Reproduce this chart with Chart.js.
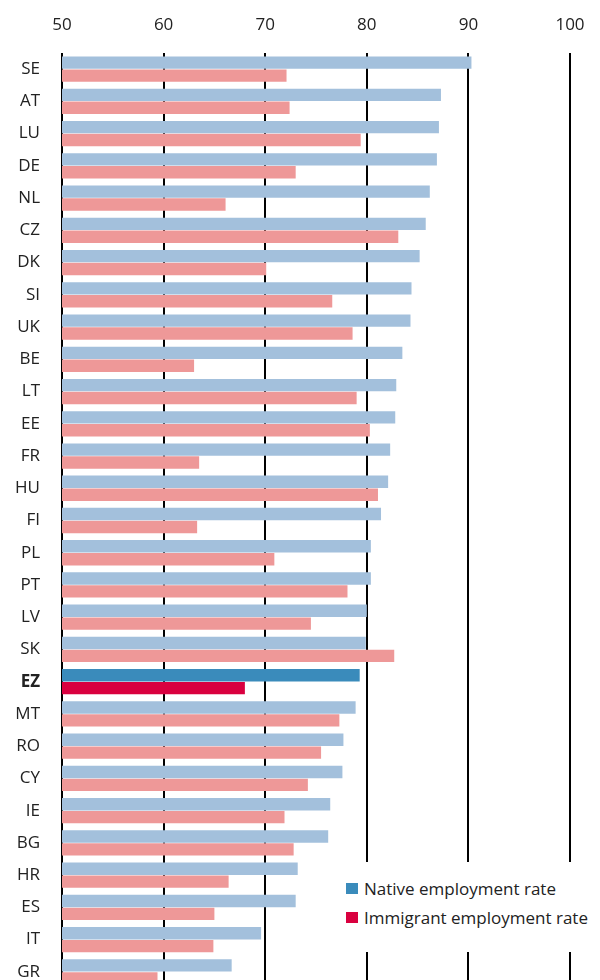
<!DOCTYPE html>
<html>
<head>
<meta charset="utf-8">
<script src="https://cdn.jsdelivr.net/npm/chart.js@4"></script>
<style>
  html, body { margin: 0; padding: 0; overflow: hidden; background: #fff; }
  #wrap { position: relative; width: 600px; height: 988px; }
  #legend {
    position: absolute; left: 340px; top: 862px; width: 260px; height: 90px;
    background: #fff; font-family: "Open Sans", sans-serif; font-size: 17px; color: #222;
    padding-top: 12px; box-sizing: border-box;
  }
  #legend div { position: relative; height: 29px; line-height: 29px; padding-left: 24px; white-space: nowrap; }
  #legend span { position: absolute; left: 6px; top: 9px; width: 12px; height: 11px; }
</style>
</head>
<body>
<div id="wrap">
  <canvas id="grafico"></canvas>
  <div id="legend">
    <div><span style="background:#3a8bbb"></span>Native employment rate</div>
    <div><span style="background:#d9003f"></span>Immigrant employment rate</div>
  </div>
</div>
<script>
const paises = ["SE", "AT", "LU", "DE", "NL", "CZ", "DK", "SI", "UK", "BE", "LT", "EE", "FR", "HU", "FI",
  "PL", "PT", "LV", "SK", "EZ", "MT", "RO", "CY", "IE", "BG", "HR", "ES", "IT", "GR"];

const nativos = [90.3, 87.3, 87.1, 86.9, 86.2, 85.8, 85.2, 84.4, 84.3, 83.5, 82.9, 82.8, 82.3, 82.1, 81.4,
  80.4, 80.4, 80.0, 79.9, 79.3, 78.9, 77.7, 77.6, 76.4, 76.2, 73.2, 73.0, 69.6, 66.7];

const inmigrantes = [72.1, 72.4, 79.4, 73.0, 66.1, 83.1, 70.1, 76.6, 78.6, 63.0, 79.0, 80.3, 63.5, 81.1, 63.3,
  70.9, 78.1, 74.5, 82.7, 68.0, 77.3, 75.5, 74.2, 71.9, 72.8, 66.4, 65.0, 64.9, 59.4];

const ticksX = [50, 60, 70, 80, 90, 100];

const fuente = "'Open Sans', sans-serif";

function color(claro, oscuro) {
  return ctx => paises[ctx.dataIndex] === "EZ" ? oscuro : claro;
}

const ctx = document.getElementById("grafico").getContext("2d");

new Chart(ctx, {
  type: "bar",
  data: {
    labels: paises,
    datasets: [
      { label: "Native employment rate", data: nativos, backgroundColor: color("#a3c0dc", "#3a8bbb") },
      { label: "Immigrant employment rate", data: inmigrantes, backgroundColor: color("#ee9898", "#d9003f") }
    ]
  },
  options: {
    indexAxis: "y",
    responsive: true,
    maintainAspectRatio: false,
    animation: false,
    layout: { padding: { right: 30, bottom: 0 } },
    categoryPercentage: 0.8,
    barPercentage: 0.96,
    plugins: { legend: { display: false }, tooltip: { enabled: false } },
    scales: {
      x: {
        position: "top",
        min: 50,
        max: 100,
        afterBuildTicks: s => { s.ticks = ticksX.map(v => ({ value: v })); },
        afterFit: s => { s.height = 53; s.paddingLeft = 0; s.paddingRight = 0; },
        border: { display: false },
        grid: { color: "#000", lineWidth: 2, drawTicks: false },
        ticks: { color: "#222", font: { family: fuente, size: 17 }, padding: 18 }
      },
      y: {
        afterFit: s => { s.width = 62; s.paddingTop = 0; s.paddingBottom = 0; },
        border: { display: false },
        grid: { display: false, drawTicks: false },
        ticks: {
          color: "#222",
          padding: 22,
          font: c => ({ family: fuente, size: 17, weight: paises[c.index] === "EZ" ? "bold" : "normal" })
        }
      }
    }
  }
});
</script>
</body>
</html>
